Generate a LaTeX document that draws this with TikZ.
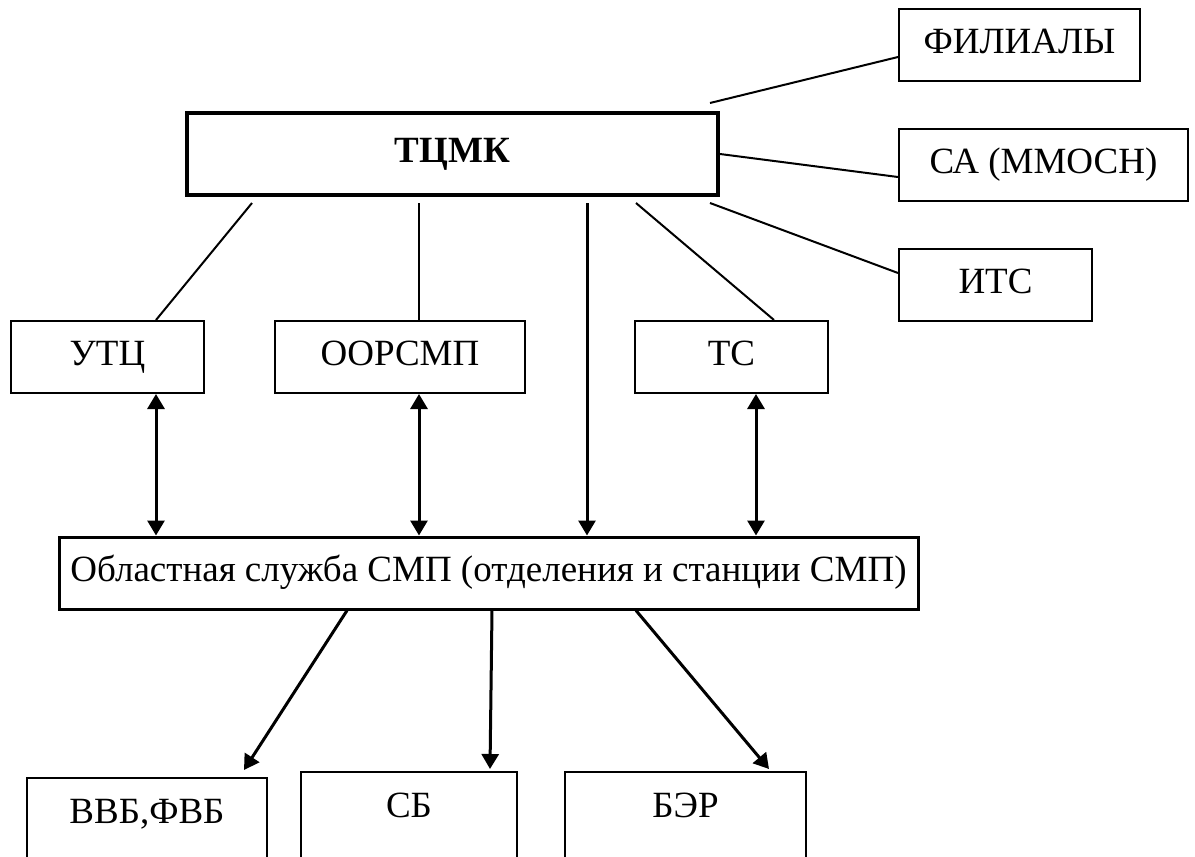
\documentclass[tikz,border=0pt]{standalone}
\usepackage{fontspec}
\setmainfont{Liberation Serif}
\usepackage{tikz}
\usetikzlibrary{arrows.meta}
\tikzstyle{box} = [rectangle, draw=black, line width=1pt, minimum width=96.5pt, minimum height=36pt, inner sep=0pt, text height=12.5pt, text depth=4.5pt, text centered]
\tikzstyle{openbox} = [rectangle, draw=black, line width=1pt, anchor=north, inner sep=0pt, text height=22.5pt, text depth=70pt]
\tikzstyle{line} = [line width=1pt]
\tikzstyle{arrow} = [line width=1.5pt, -{Triangle[length=7.5pt,width=8.5pt]}]
\tikzstyle{twoway} = [line width=1.5pt, {Triangle[length=7.5pt,width=8.5pt]}-{Triangle[length=7.5pt,width=8.5pt]}]

\begin{document}
\begin{tikzpicture}[x=0.5pt, y=-0.5pt, font=\fontsize{18.5}{22}\selectfont]
    \useasboundingbox (0,0) rectangle (1195,857);
    \clip (0,0) rectangle (1195,857);
    \node [box, minimum width=265.5pt, minimum height=41pt, line width=2pt, font=\fontsize{18.5}{22}\selectfont\bfseries] (tcmk) at (452.5,154) {ТЦМК};
    \node [box, minimum width=120.5pt] (filialy) at (1019.5,45) {ФИЛИАЛЫ};
    \node [box, minimum width=144.5pt] (sa) at (1043.5,165) {СА (ММОСН)};
    \node [box] (its) at (995.5,285) {ИТС};
    \node [box] (utc) at (107.5,357) {УТЦ};
    \node [box, minimum width=125pt] (oorsmp) at (400,357) {ООРСМП};
    \node [box] (ts) at (731.5,357) {ТС};
    \node [box, minimum width=429.5pt, line width=1.5pt] (oblast) at (488.5,573) {Областная служба СМП (отделения и станции СМП)};
    \node [openbox, minimum width=120pt] (vvb) at (147,777) {ВВБ,ФВБ};
    \node [openbox, minimum width=108pt] (sb) at (409,771) {СБ};
    \node [openbox, minimum width=120.5pt] (ber) at (685.5,771) {БЭР};
    \draw [line] ([shift={(-10,-8)}]tcmk.north east) -- ([shift={(0,12)}]filialy.west);
    \draw [line] (tcmk.east) -- ([shift={(0,12)}]sa.west);
    \draw [line] ([shift={(-10,6)}]tcmk.south east) -- ([shift={(0,-12)}]its.west);
    \draw [line] ([shift={(183.5,6)}]tcmk.south) -- ([shift={(42.5,0)}]ts.north);
    \draw [line] ([shift={(-200.5,6)}]tcmk.south) -- ([shift={(48.5,0)}]utc.north);
    \draw [line] ([shift={(-33.5,6)}]tcmk.south) -- ([shift={(19,0)}]oorsmp.north);
    \draw [arrow] ([shift={(134.5,6)}]tcmk.south) -- ([shift={(98.5,0)}]oblast.north);
    \draw [twoway] ([shift={(48.5,0)}]utc.south) -- ([shift={(-332.5,0)}]oblast.north);
    \draw [twoway] ([shift={(19,0)}]oorsmp.south) -- ([shift={(-69.5,0)}]oblast.north);
    \draw [twoway] ([shift={(24.5,0)}]ts.south) -- ([shift={(267.5,0)}]oblast.north);
    \draw [arrow] ([shift={(-141.5,0)}]oblast.south) -- ([shift={(-24,-7)}]vvb.north east);
    \draw [arrow] ([shift={(3.5,0)}]oblast.south) -- ([shift={(-28,-2)}]sb.north east);
    \draw [arrow] ([shift={(147.5,0)}]oblast.south) -- ([shift={(-38,-2)}]ber.north east);
\end{tikzpicture}
\end{document}
